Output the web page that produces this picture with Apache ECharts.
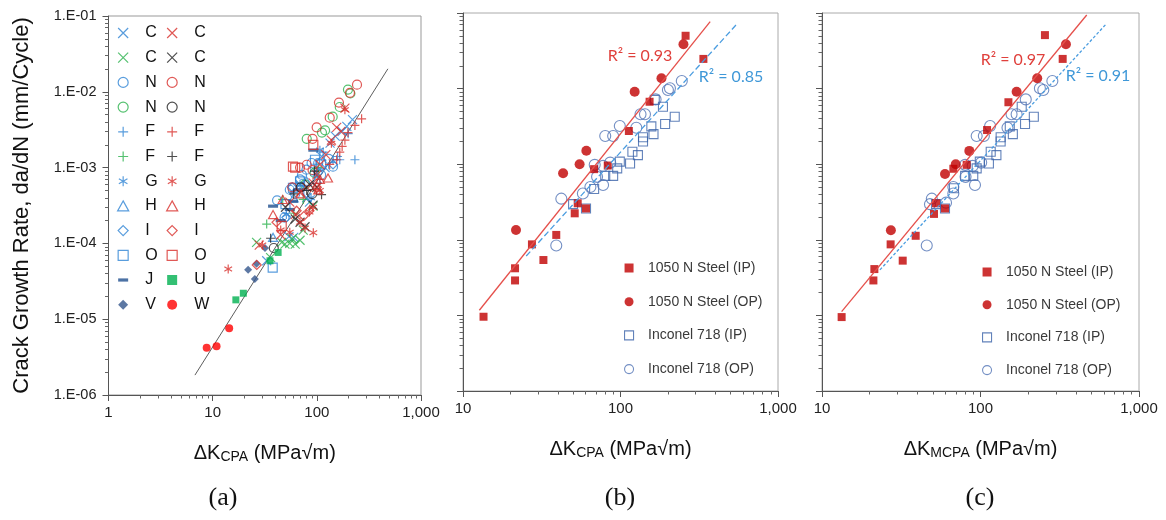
<!DOCTYPE html>
<html><head><meta charset="utf-8">
<script src="https://cdn.jsdelivr.net/npm/echarts@6/dist/echarts.min.js"></script>
<style>html,body{margin:0;padding:0;background:#fff}#c{width:1166px;height:520px}</style>
</head><body><div id="c"></div>
<script>
// ---------- Panel (a) data: [ΔK_CPA, da/dN] ----------
const a_C_blue  = [[220,4.3e-3],[194,3.5e-3],[134,2.1e-3],[111,1.4e-3],[54,1.23e-4],[33,5.9e-5],[85,3.5e-4],[69,6e-4],[100,8.5e-4],[150,2.6e-3],[175,3.0e-3],[80,4.0e-4],[120,1.0e-3],[60,1.2e-4]];
const a_C_green = [[49.4,9.8e-5],[55,1.0e-4],[62,9.8e-5],[69,1.1e-4],[46,1.03e-4],[26.4,1.03e-4],[74,1.5e-4],[92,3.1e-4],[36,6.5e-5],[58,1.15e-4]];
const a_N_blue  = [[41.5,3.7e-4],[79.5,9.4e-4],[103,1.15e-3],[143,1.03e-3],[55,5.1e-4],[49,2.2e-4],[69,7e-4],[89,1.15e-3],[110,8e-4],[62,4.5e-4],[72,8e-4],[130,1.3e-3]];
const a_N_green = [[199,0.0107],[166,0.0063],[142,0.0047],[112,0.0029],[80,0.0024],[77,6e-4],[95,8.5e-4],[210,0.0095],[120,0.0031]];
const a_F_blue  = [[232,1.27e-3],[166,1.27e-3],[158,1.4e-3],[143,1.27e-3],[115,1.6e-3],[95,8e-4],[75,5e-4],[200,2.8e-3]];
const a_F_green = [[33,1.8e-4],[103,1.0e-3],[74,3.8e-4],[47,3.8e-4],[60,2.5e-4]];
const a_G_blue  = [[69,6e-4],[107,1.7e-3],[51,2.4e-4],[88,4e-4]];
const a_H_blue  = [[38,1.2e-4],[80,6.6e-4],[60,4e-4],[100,7e-4]];
const a_I_blue  = [[51,2.2e-4],[143,1.1e-3],[103,8.6e-4],[58,5.5e-4]];
const a_O_blue  = [[37.7,4.8e-5],[59,5.4e-4],[96,1.27e-3],[69,6.6e-4],[110,1.1e-3],[50,3.3e-4]];
const a_J       = [[92.5,1.7e-3],[38,3.1e-4],[59,3.6e-4],[66,5.1e-4],[45,2.0e-4],[55,2.8e-4]];
const a_V       = [[21.9,4.5e-5],[26.4,5.4e-5],[25.4,3.4e-5],[31.8,8.7e-5]];
const a_C_red   = [[186,6.1e-3],[155,3.4e-3],[138,2.3e-3],[122,1.48e-3],[107,1.1e-3],[92,6.3e-4],[69,4.7e-4],[55,3.5e-4],[170,3.0e-3],[100,8.0e-4],[80,5.5e-4],[62,2.4e-4],[45,1.3e-4],[28,9.5e-5]];
const a_C_black = [[77,1.66e-4],[69,1.9e-4],[62,2.1e-4],[92,3.2e-4],[85,6e-4],[100,5.5e-4],[50,3.0e-4]];
const a_N_red   = [[243,0.0124],[208,0.0097],[163,0.0072],[133,0.00455],[99.6,0.0034],[91,0.0024],[69,0.001],[91,9.3e-4],[80,1.09e-3],[58,5.5e-4]];
const a_N_black = [[38.6,8.7e-5],[70,5.5e-4],[90,4.5e-4]];
const a_F_red   = [[269,0.0044],[232,0.0036],[199,0.0029],[186,0.0023],[166,1.6e-3],[155,1.27e-3],[133,1.1e-3],[107,7e-4],[96,5.1e-4],[175,1.9e-3]];
const a_F_black = [[36,1.17e-4],[111,4.4e-4],[95,9e-4],[60,4.5e-4],[80,5e-4]];
const a_G_red   = [[14.1,4.6e-5],[92.5,1.38e-4],[77,1.6e-4],[69,1.9e-4],[92,3e-4],[138,2.1e-3],[186,5.8e-3],[30,9.5e-5],[55,1.4e-4],[85,2.6e-4],[107,5e-4],[45,1.5e-4]];
const a_G_black = [[39.5,2.6e-4],[74,1.66e-4],[60,2.2e-4],[96,5.6e-4],[57,4.4e-4],[82,1.8e-4]];
const a_H_red   = [[107,7e-4],[128,7.3e-4],[38,2.4e-4],[47,3.8e-4],[103,5.1e-4],[70,4.5e-4]];
const a_I_red   = [[41,1.9e-4],[26.5,5.2e-5],[85,2.7e-4],[64,2.7e-4],[100,5.5e-4],[75,2.3e-4]];
const a_O_red   = [[92.5,2.0e-3],[62,1.0e-3],[46,1.7e-4],[59,1.03e-3]];
const a_U       = [[16.7,1.8e-5],[19.7,2.2e-5],[35.5,5.9e-5],[42.5,7.6e-5]];
const a_W       = [[8.76,4.2e-6],[10.9,4.4e-6],[14.4,7.6e-6]];
const a_trend   = [[6.76,1.83e-6],[481,0.0201]];

// ---------- Panel (b) data: [ΔK_CPA, da/dN] ----------
const b_steel_IP = [[259,0.050],[336,0.0247],[153,0.0067],[113,0.00275],[68,8.6e-4],[83,9.6e-4],[53.5,3.04e-4],[60.4,2.6e-4],[51.2,2.24e-4],[39.1,1.16e-4],[27.4,8.7e-5],[32.4,5.4e-5],[21.4,4.2e-5],[21.4,2.9e-5],[13.5,9.6e-6]];
const b_steel_OP = [[251,0.0386],[182,0.0137],[123,0.0091],[60.7,1.51e-3],[55,1.0e-3],[43.2,7.6e-4],[21.7,1.35e-4]];
const b_inc_IP   = [[221,4.25e-3],[192,3.4e-3],[186,5.75e-3],[162,2.5e-3],[157,3.16e-3],[139,2.27e-3],[139,2.0e-3],[129,1.32e-3],[119,1.46e-3],[115,1.02e-3],[99,1.08e-3],[95.3,8.8e-4],[89.8,7.0e-4],[80,7.0e-4],[68,4.7e-4],[60.4,2.6e-4],[50,2.96e-4],[165,7.1e-3]];
const b_inc_OP   = [[245,0.0126],[206,0.0101],[200,0.0096],[167,7.2e-3],[143,4.57e-3],[134,4.57e-3],[126,3.04e-3],[99,3.2e-3],[89.8,2.36e-3],[80,2.36e-3],[86,1.05e-3],[77.5,9.5e-4],[68.6,9.8e-4],[71,6.8e-4],[77.5,5.3e-4],[64.4,5.0e-4],[57.7,4.1e-4],[42.1,3.5e-4],[39.1,8.4e-5]];
const b_fit_steel = [[12.7,1.17e-5],[371,0.0767]];
const b_fit_inc   = [[25.2,6.1e-5],[548,0.0714]];

// ---------- Panel (c) data: [ΔK_MCPA, da/dN] ----------
const c_steel_IP = [[255,0.051],[330,0.0247],[150,0.0066],[110,0.00283],[81.8,9.8e-4],[67.4,8.7e-4],[52.4,3.04e-4],[59.7,2.6e-4],[50.9,2.2e-4],[39,1.13e-4],[27.1,8.7e-5],[32.3,5.3e-5],[21.4,4.1e-5],[21.1,2.9e-5],[13.3,9.5e-6]];
const c_steel_OP = [[346,0.0386],[228,0.0137],[169,0.0091],[85,1.5e-3],[69.8,1.0e-3],[59.7,7.4e-4],[27.2,1.34e-4]];
const c_inc_IP   = [[217,4.25e-3],[191,3.4e-3],[182,5.75e-3],[160,2.5e-3],[153,3.16e-3],[134,2.27e-3],[134,2.0e-3],[126,1.32e-3],[116,1.46e-3],[113,1.02e-3],[99,1.08e-3],[94.6,8.8e-4],[90,7.0e-4],[80,7.0e-4],[68,4.8e-4],[59.7,2.6e-4],[52.4,2.96e-4]];
const c_inc_OP   = [[284,0.0126],[237,0.0101],[249,0.0096],[193,7.2e-3],[169,4.57e-3],[157,4.57e-3],[148,3.04e-3],[115,3.2e-3],[105,2.36e-3],[94.6,2.36e-3],[101,1.05e-3],[89.3,9.5e-4],[80,9.8e-4],[80.5,6.8e-4],[92.3,5.3e-4],[67.4,5.0e-4],[67.4,4.1e-4],[49.3,3.5e-4],[48,2.96e-4],[60.6,3.1e-4],[45.8,8.4e-5]];
const c_fit_steel = [[13.3,1.12e-5],[468,0.094]];
const c_fit_inc   = [[23.2,4.0e-5],[620,0.0714]];

// ---------- Tick labels and tick positions ----------
const xTicksA = ['1','10','100','1,000'];
const yTicksA = ['1.E-06','1.E-05','1.E-04','1.E-03','1.E-02','1.E-01'];
const xTicksBC = ['10','100','1,000'];
const legendB = ['1050 N Steel (IP)','1050 N Steel (OP)','Inconel 718 (IP)','Inconel 718 (OP)'];
const minorSteps = [2,3,4,5,6,7,8,9];
const decadesXA = [1,10,100];
const decadesXBC = [10,100];
const decadesY = [1e-6,1e-5,1e-4,1e-3,1e-2];
const minorOf = (decs)=>decs.flatMap(d=>minorSteps.map(m=>+(d*m).toPrecision(6)));

const FONT = 'Liberation Sans';
const BLUE='#2f84d4', GREEN='#2bb24c', RED='#d8302c', BLACK='#222222', DBLUE='#1f4f8f', VBLUE='#34568c', UGREEN='#00b050', WRED='#ff0000';
const SYM = {
  x: 'path://M0,0L10,10M10,0L0,10',
  plus: 'path://M5,0L5,10M0,5L10,5',
  star: 'path://M5,0L5,10M0.7,2.5L9.3,7.5M0.7,7.5L9.3,2.5',
  dash: 'path://M0,3.4L10,3.4L10,6.6L0,6.6ZM5,0L5,0M5,10L5,10',
  rect: 'path://M0,0L10,0L10,10L0,10Z',
  tri: 'path://M5,0L10,9L0,9Z',
  dia: 'path://M5,0L10,5L5,10L0,5Z',
  circ: 'circle'
};
function hollow(name, data, symbol, color, size){
  return {type:'scatter', name, data, xAxisIndex:0, yAxisIndex:0, symbol, symbolSize:size||9, symbolKeepAspect:true,
    itemStyle:{color:'rgba(0,0,0,0)', borderColor:color, borderWidth:1.2}, emphasis:{disabled:true}, z:3};
}
function filled(name, data, symbol, color, size){
  return {type:'scatter', name, data, xAxisIndex:0, yAxisIndex:0, symbol, symbolSize:size||8, symbolKeepAspect:true,
    itemStyle:{color}, emphasis:{disabled:true}, z:3};
}
const leftNames=[], rightNames=[];
const seriesA = [
  hollow('C_1',a_C_blue,SYM.x,BLUE), hollow('C_2',a_C_green,SYM.x,GREEN), hollow('N_1',a_N_blue,SYM.circ,BLUE),
  hollow('N_2',a_N_green,SYM.circ,GREEN), hollow('F_1',a_F_blue,SYM.plus,BLUE), hollow('F_2',a_F_green,SYM.plus,GREEN),
  hollow('G_1',a_G_blue,SYM.star,BLUE), hollow('H_1',a_H_blue,SYM.tri,BLUE), hollow('I_1',a_I_blue,SYM.dia,BLUE),
  hollow('O_1',a_O_blue,SYM.rect,BLUE), filled('J_1',a_J,SYM.dash,DBLUE,10), filled('V_1',a_V,SYM.dia,VBLUE,8),
  hollow('C_3',a_C_red,SYM.x,RED), hollow('C_4',a_C_black,SYM.x,BLACK), hollow('N_3',a_N_red,SYM.circ,RED),
  hollow('N_4',a_N_black,SYM.circ,BLACK), hollow('F_3',a_F_red,SYM.plus,RED), hollow('F_4',a_F_black,SYM.plus,BLACK),
  hollow('G_2',a_G_red,SYM.star,RED), hollow('H_2',a_H_red,SYM.tri,RED), hollow('I_2',a_I_red,SYM.dia,RED),
  hollow('O_2',a_O_red,SYM.rect,RED), filled('U_1',a_U,SYM.rect,UGREEN,7), filled('W_1',a_W,SYM.circ,WRED,8)
];
seriesA.forEach((s,i)=>{ (i<12?leftNames:rightNames).push(s.name); });

const RICH = {m:{fontFamily:FONT,fontSize:20,color:'#111'}, s:{fontFamily:FONT,fontSize:14,color:'#111',padding:[8,0,0,0]}};
function axisX(idx, min, max, labels, nameRich){
  return {type:'log', logBase:10, gridIndex:idx, min, max, position:'bottom', splitLine:{show:false},
    axisLine:{show:true, onZero:false, lineStyle:{color:'#555', width:1}},
    axisTick:{show:true, inside:false, length:6, lineStyle:{color:'#555'}},
    axisLabel:{fontFamily:FONT, fontSize:15, color:'#222', margin:10,
      formatter:(v)=>{ const i=Math.round(Math.log10(v)-Math.log10(min)); return labels[i]||''; }},
    name: nameRich, nameLocation:'middle', nameGap:47, nameTextStyle:{rich:RICH}
  };
}
function axisY(idx, showLabels){
  return {type:'log', logBase:10, gridIndex:idx, min:1e-6, max:0.1, position:'left', splitLine:{show:false},
    axisLine:{show:true, onZero:false, lineStyle:{color:'#555', width:1}},
    axisTick:{show:true, inside:false, length:6, lineStyle:{color:'#555'}},
    axisLabel:{show:showLabels, fontFamily:FONT, fontSize:14.5, color:'#222', margin:12,
      formatter:(v)=>{ const i=Math.round(Math.log10(v)+6); return yTicksA[i]||''; }},
    name: showLabels ? 'Crack Growth Rate, da/dN (mm/Cycle)' : '', nameLocation:'middle', nameGap:76,
    nameTextStyle:{fontFamily:FONT, fontSize:22, color:'#111'}
  };
}
function minorAxis(isX, idx, min, max, vals){
  return {type:'log', logBase:10, gridIndex:idx, min, max, position: isX?'bottom':'left', offset:0,
    splitLine:{show:false}, axisLine:{show:false}, axisLabel:{show:false}, silent:true,
    axisTick:{show:true, inside:false, length:3.5, customValues:vals, lineStyle:{color:'#666'}}};
}
function bcSeries(xi, ip, op, incIp, incOp, fitS, fitI, dash){
  return [
    {type:'scatter', name:legendB[2], data:incIp, xAxisIndex:xi, yAxisIndex:xi, symbol:SYM.rect, symbolSize:9, symbolKeepAspect:true,
      itemStyle:{color:'rgba(0,0,0,0)', borderColor:'#3b63a9', borderWidth:1.1}, emphasis:{disabled:true}, z:2},
    {type:'scatter', name:legendB[3], data:incOp, xAxisIndex:xi, yAxisIndex:xi, symbol:'circle', symbolSize:11,
      itemStyle:{color:'rgba(0,0,0,0)', borderColor:'#5073b5', borderWidth:1.1}, emphasis:{disabled:true}, z:2},
    {type:'scatter', name:legendB[0], data:ip, xAxisIndex:xi, yAxisIndex:xi, symbol:SYM.rect, symbolSize:8, symbolKeepAspect:true,
      itemStyle:{color:'#c00000'}, emphasis:{disabled:true}, z:3},
    {type:'scatter', name:legendB[1], data:op, xAxisIndex:xi, yAxisIndex:xi, symbol:'circle', symbolSize:10,
      itemStyle:{color:'#c00000'}, emphasis:{disabled:true}, z:3},
    {type:'line', data:fitS, xAxisIndex:xi, yAxisIndex:xi, showSymbol:false, symbol:'none', silent:true,
      lineStyle:{color:'#e5504b', width:1.3}, z:4},
    {type:'line', data:fitI, xAxisIndex:xi, yAxisIndex:xi, showSymbol:false, symbol:'none', silent:true,
      lineStyle:{color:'#4b9de0', width:1.3, type:dash}, z:4}
  ];
}
const legA = (names,left)=>({data:names, orient:'vertical', left, top:20, itemWidth:30, itemHeight:10, itemGap:8.7,
  selectedMode:false, itemStyle:{borderWidth:1.2},
  textStyle:{fontFamily:FONT, fontSize:16, lineHeight:16, color:'#111', padding:[0,0,0,2]}, formatter:(n)=>n.split('_')[0]});
const legBC = (left,top,gap)=>({data:legendB, orient:'vertical', left, top, itemWidth:26, itemHeight:9, itemGap:gap,
  selectedMode:false, itemStyle:{borderWidth:1.1},
  textStyle:{fontFamily:FONT, fontSize:14, lineHeight:16, color:'#3a3a3a', padding:[0,0,0,1]}});

const option = {
  animation:false, backgroundColor:'#fff',
  grid:[
    {left:108.5, top:16, width:312.5, height:379, show:true, borderColor:'#999', borderWidth:1, backgroundColor:'transparent'},
    {left:463, top:13, width:315, height:378, show:true, borderColor:'#aaa', borderWidth:1, backgroundColor:'transparent'},
    {left:822, top:13, width:317, height:378, show:true, borderColor:'#aaa', borderWidth:1, backgroundColor:'transparent'}
  ],
  xAxis:[
    axisX(0,1,1000,xTicksA,'{m|ΔK}{s|CPA}{m| (MPa√m)}'),
    axisX(1,10,1000,xTicksBC,'{m|ΔK}{s|CPA}{m| (MPa√m)}'),
    axisX(2,10,1000,xTicksBC,'{m|ΔK}{s|MCPA}{m| (MPa√m)}'),
    minorAxis(true,0,1,1000,minorOf(decadesXA)),
    minorAxis(true,1,10,1000,minorOf(decadesXBC)),
    minorAxis(true,2,10,1000,minorOf(decadesXBC))
  ],
  yAxis:[axisY(0,true), axisY(1,false), axisY(2,false),
    minorAxis(false,0,1e-6,0.1,minorOf(decadesY)),
    minorAxis(false,1,1e-6,0.1,minorOf(decadesY)),
    minorAxis(false,2,1e-6,0.1,minorOf(decadesY))
  ],
  legend:[legA(leftNames,112), legA(rightNames,161), legBC(619,255,17.7), legBC(977,259,16.7)],
  series:[
    ...seriesA,
    {type:'line', data:a_trend, xAxisIndex:0, yAxisIndex:0, symbol:'none', silent:true, lineStyle:{color:'#333', width:0.8}, z:2},
    ...bcSeries(1, b_steel_IP, b_steel_OP, b_inc_IP, b_inc_OP, b_fit_steel, b_fit_inc, [6,3]),
    ...bcSeries(2, c_steel_IP, c_steel_OP, c_inc_IP, c_inc_OP, c_fit_steel, c_fit_inc, [3,2])
  ],
  graphic:[
    {type:'text', style:{text:'(a)', x:223, y:498, align:'center', verticalAlign:'middle', font:'26px "Liberation Serif"', fill:'#111'}},
    {type:'text', style:{text:'(b)', x:620, y:498, align:'center', verticalAlign:'middle', font:'26px "Liberation Serif"', fill:'#111'}},
    {type:'text', style:{text:'(c)', x:980, y:498, align:'center', verticalAlign:'middle', font:'26px "Liberation Serif"', fill:'#111'}},
    {type:'text', style:{text:'R² = 0.93', x:640, y:56, align:'center', verticalAlign:'middle', font:'16px Lato', fill:'#e0403c'}},
    {type:'text', style:{text:'R² = 0.85', x:731, y:77, align:'center', verticalAlign:'middle', font:'16px Lato', fill:'#3f98d8'}},
    {type:'text', style:{text:'R² = 0.97', x:1013, y:60, align:'center', verticalAlign:'middle', font:'16px Lato', fill:'#e0403c'}},
    {type:'text', style:{text:'R² = 0.91', x:1098, y:76, align:'center', verticalAlign:'middle', font:'16px Lato', fill:'#3f98d8'}}
  ]
};
const chart = echarts.init(document.getElementById('c'), null, {renderer:'canvas', width:1166, height:520});
chart.setOption(option);
</script></body></html>
